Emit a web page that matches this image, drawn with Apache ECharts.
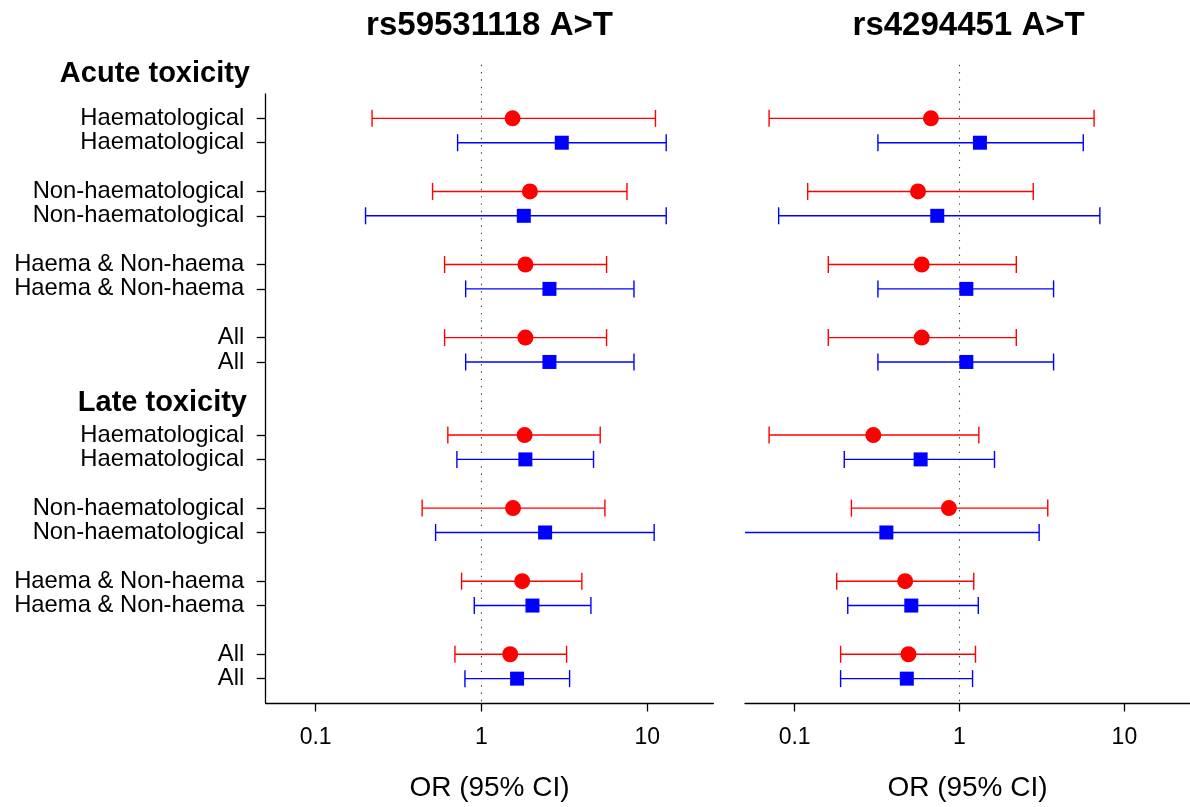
<!DOCTYPE html>
<html><head><meta charset="utf-8">
<script src="https://cdn.jsdelivr.net/npm/echarts@6/dist/echarts.min.js"></script>
<style>html,body{margin:0;padding:0;background:#fff}#c{width:1190px;height:807px}</style>
</head><body><div id="c"></div>
<script>
// ---------------- data ----------------
const panelTitles = ['rs59531118 A>T', 'rs4294451 A>T'];
const sectionHeaders = ['Acute toxicity', 'Late toxicity'];
const rowLabels = [
  'Haematological', 'Haematological',
  'Non-haematological', 'Non-haematological',
  'Haema & Non-haema', 'Haema & Non-haema',
  'All', 'All',
  'Haematological', 'Haematological',
  'Non-haematological', 'Non-haematological',
  'Haema & Non-haema', 'Haema & Non-haema',
  'All', 'All'
];
const rowPos = [0, 1, 3, 4, 6, 7, 9, 10, 13, 14, 16, 17, 19, 20, 22, 23];
const redRows = [0, 3, 6, 9, 13, 16, 19, 22];
const blueRows = [1, 4, 7, 10, 14, 17, 20, 23];
const xTicks = [0.1, 1, 10];
const xAxisName = 'OR (95% CI)';
const refValue = 1;

// left panel (rs59531118)
const leftRedOR  = [1.54, 1.96, 1.84, 1.84, 1.82, 1.55, 1.76, 1.49];
const leftRedLo  = [0.219, 0.507, 0.599, 0.599, 0.627, 0.439, 0.759, 0.692];
const leftRedHi  = [11.2, 7.54, 5.68, 5.68, 5.20, 5.55, 4.03, 3.26];
const leftBlueOR = [3.05, 1.80, 2.57, 2.57, 1.84, 2.42, 2.03, 1.64];
const leftBlueLo = [0.718, 0.200, 0.803, 0.803, 0.711, 0.529, 0.905, 0.795];
const leftBlueHi = [13.0, 13.0, 8.31, 8.31, 4.74, 11.0, 4.57, 3.40];
// right panel (rs4294451)
const rightRedOR  = [0.671, 0.560, 0.590, 0.590, 0.300, 0.862, 0.468, 0.490];
const rightRedLo  = [0.070, 0.120, 0.160, 0.160, 0.070, 0.221, 0.180, 0.190];
const rightRedHi  = [6.55, 2.80, 2.21, 2.21, 1.31, 3.43, 1.22, 1.25];
const rightBlueOR = [1.33, 0.733, 1.10, 1.10, 0.581, 0.360, 0.510, 0.479];
const rightBlueLo = [0.320, 0.080, 0.320, 0.320, 0.200, 0.040, 0.210, 0.190];
const rightBlueHi = [5.63, 7.10, 3.72, 3.72, 1.63, 3.04, 1.30, 1.20];

// ---------------- layout / style ----------------
const FONT = "'Liberation Sans', Arial, Helvetica, sans-serif";
const RED = '#ff0000', BLUE = '#0000ff';
const GRID_TOP = 94, GRID_H = 609.3;
const grids = [
  {left: 265.7, top: GRID_TOP, width: 447.6, height: GRID_H},
  {left: 745, top: GRID_TOP, width: 447.2, height: GRID_H}
];
const Y_MIN = -1, Y_MAX = 24, REF_TOP_ROW = -2.2;

function errRender(color) {
  return function (params, api) {
    const lo = api.value(0), hi = api.value(1), row = api.value(2);
    const cs = params.coordSys;
    const p1 = api.coord([lo, row]);
    const p2 = api.coord([hi, row]);
    const xmin = cs.x, xmax = cs.x + cs.width;
    const st = {stroke: color, lineWidth: 1.4};
    const h = 8.5;
    const ch = [{type: 'line', shape: {x1: Math.max(p1[0], xmin), y1: p1[1], x2: Math.min(p2[0], xmax), y2: p1[1]}, style: st}];
    if (p1[0] >= xmin - 0.5) ch.push({type: 'line', shape: {x1: p1[0], y1: p1[1] - h, x2: p1[0], y2: p1[1] + h}, style: st});
    if (p2[0] <= xmax + 0.5) ch.push({type: 'line', shape: {x1: p2[0], y1: p2[1] - h, x2: p2[0], y2: p2[1] + h}, style: st});
    return {type: 'group', children: ch};
  };
}
function refRender(params, api) {
  const p1 = api.coord([api.value(0), api.value(1)]);
  const p2 = api.coord([api.value(0), api.value(2)]);
  return {type: 'line', shape: {x1: p1[0], y1: p1[1], x2: p2[0], y2: p2[1]},
    style: {stroke: '#444', lineWidth: 1.1, lineDash: [1.4, 5.9]}};
}
function errData(lo, hi, rows) { return rows.map((r, i) => [lo[i], hi[i], r]); }
function ptData(or, rows) { return rows.map((r, i) => [or[i], r]); }

const panels = [
  {redOR: leftRedOR, redLo: leftRedLo, redHi: leftRedHi, blueOR: leftBlueOR, blueLo: leftBlueLo, blueHi: leftBlueHi},
  {redOR: rightRedOR, redLo: rightRedLo, redHi: rightRedHi, blueOR: rightBlueOR, blueLo: rightBlueLo, blueHi: rightBlueHi}
];

const xAxes = grids.map((g, i) => ({
  type: 'log', logBase: 10, gridIndex: i, min: 0.05, max: 25, position: 'bottom',
  axisLine: {show: true, onZero: false, lineStyle: {color: '#000', width: 1.3}},
  axisTick: {show: true, customValues: xTicks, length: 8.5, lineStyle: {color: '#000', width: 1.3}},
  axisLabel: {show: true, customValues: xTicks, margin: 23, color: '#000', fontSize: 23, fontFamily: FONT,
    formatter: v => String(+(+v).toPrecision(6))},
  splitLine: {show: false},
  name: xAxisName, nameLocation: 'middle', nameGap: 71,
  nameTextStyle: {color: '#000', fontSize: 28, fontFamily: FONT}
}));
const yAxes = grids.map((g, i) => ({
  type: 'value', gridIndex: i, inverse: true, min: Y_MIN, max: Y_MAX, show: i === 0,
  axisLine: {show: true, onZero: false, lineStyle: {color: '#000', width: 1.3}},
  axisTick: {show: true, customValues: rowPos, length: 9, lineStyle: {color: '#000', width: 1.3}},
  axisLabel: {show: true, customValues: rowPos, margin: 21.4, color: '#000', fontSize: 23.8, fontFamily: FONT,
    formatter: v => rowLabels[rowPos.indexOf(Math.round(v))] || ''},
  splitLine: {show: false}
}));

const series = [];
panels.forEach((p, i) => {
  series.push({type: 'custom', xAxisIndex: i, yAxisIndex: i, silent: true, z: 1,
    renderItem: refRender, data: [[refValue, REF_TOP_ROW, Y_MAX]]});
  series.push({type: 'custom', xAxisIndex: i, yAxisIndex: i, silent: true, z: 2,
    renderItem: errRender(RED), data: errData(p.redLo, p.redHi, redRows)});
  series.push({type: 'custom', xAxisIndex: i, yAxisIndex: i, silent: true, z: 2,
    renderItem: errRender(BLUE), data: errData(p.blueLo, p.blueHi, blueRows)});
  series.push({type: 'scatter', xAxisIndex: i, yAxisIndex: i, silent: true, z: 3,
    symbol: 'circle', symbolSize: 16, itemStyle: {color: RED, opacity: 1}, data: ptData(p.redOR, redRows)});
  series.push({type: 'scatter', xAxisIndex: i, yAxisIndex: i, silent: true, z: 3,
    symbol: 'rect', symbolSize: 14, itemStyle: {color: BLUE, opacity: 1}, data: ptData(p.blueOR, blueRows)});
});

const graphics = [];
grids.forEach((g, i) => {
  graphics.push({type: 'text', x: g.left + g.width / 2, y: 26,
    style: {text: panelTitles[i], font: 'bold 33px ' + FONT, fill: '#000', align: 'center', verticalAlign: 'middle'}});
});
graphics.push({type: 'text', x: 250, y: 74,
  style: {text: sectionHeaders[0], font: 'bold 29px ' + FONT, fill: '#000', align: 'right', verticalAlign: 'middle'}});
graphics.push({type: 'text', x: 247, y: 403,
  style: {text: sectionHeaders[1], font: 'bold 29px ' + FONT, fill: '#000', align: 'right', verticalAlign: 'middle'}});

const chart = echarts.init(document.getElementById('c'), null, {renderer: 'canvas'});
chart.setOption({
  animation: false,
  backgroundColor: '#fff',
  grid: grids,
  xAxis: xAxes,
  yAxis: yAxes,
  series: series,
  graphic: graphics
});
</script>
</body></html>
